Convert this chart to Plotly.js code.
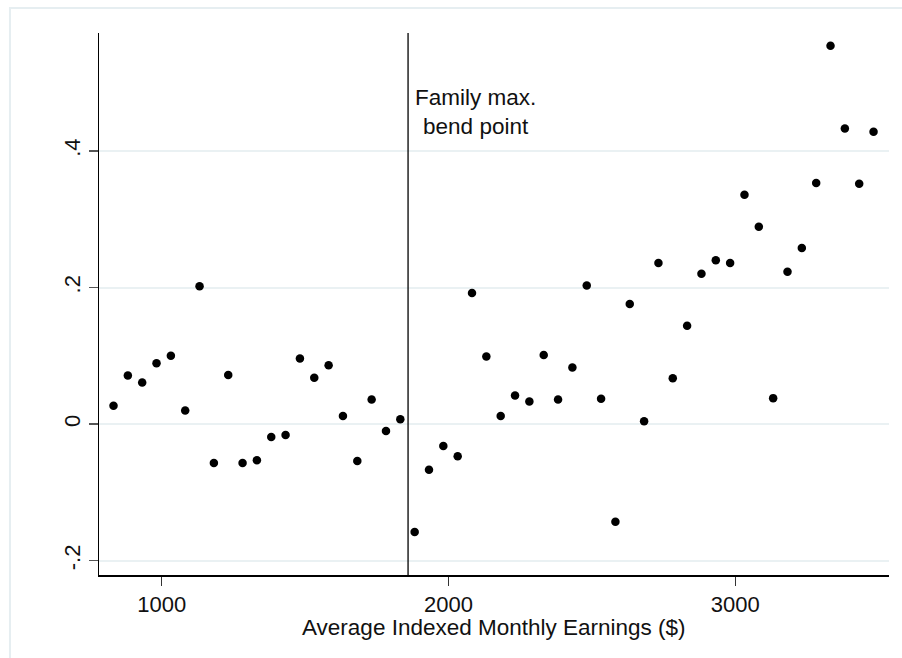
<!DOCTYPE html>
<html>
<head>
<meta charset="utf-8">
<script src="https://cdn.plot.ly/plotly-3.0.1.min.js"></script>
<style>html,body{margin:0;padding:0;background:#fff;}#chart{width:902px;height:658px;}</style>
</head>
<body>
<div id="chart"></div>
<script>
// Average Indexed Monthly Earnings bins ($)
const aime = [832, 882, 932, 982, 1032, 1082, 1132, 1182, 1232, 1282, 1332, 1382, 1432, 1482,
  1532, 1582, 1632, 1682, 1732, 1782, 1832, 1882, 1932, 1982, 2032, 2082, 2132, 2182,
  2232, 2282, 2332, 2382, 2432, 2482, 2532, 2582, 2632, 2682, 2732, 2782, 2832, 2882,
  2932, 2982, 3032, 3082, 3132, 3182, 3232, 3282, 3332, 3382, 3432, 3482];
const effect = [0.027, 0.071, 0.061, 0.089, 0.100, 0.020, 0.202, -0.057, 0.072, -0.057, -0.053, -0.019, -0.016, 0.096,
  0.068, 0.086, 0.012, -0.054, 0.036, -0.010, 0.007, -0.158, -0.067, -0.032, -0.047, 0.192, 0.099, 0.012,
  0.042, 0.033, 0.101, 0.036, 0.083, 0.203, 0.037, -0.143, 0.176, 0.004, 0.236, 0.067, 0.144, 0.220,
  0.240, 0.236, 0.336, 0.289, 0.038, 0.223, 0.258, 0.353, 0.554, 0.433, 0.352, 0.428];
const bendPoint = 1859;
const bendLabel = "Family max.<br>bend point";
const xTicks = [1000, 2000, 3000];
const xTickText = ["1000", "2000", "3000"];
const yTicks = [-0.2, 0, 0.2, 0.4];
const yTickText = ["-.2", "0", ".2", ".4"];
const xTitle = "Average Indexed Monthly Earnings ($)";

const font = "Liberation Sans, Arial, sans-serif";

const trace = {
  x: aime, y: effect, type: "scatter", mode: "markers",
  marker: {color: "#000", size: 8.5},
  hoverinfo: "skip", showlegend: false
};

const layout = {
  width: 902, height: 658,
  margin: {l: 99, r: 13, t: 33, b: 83},
  paper_bgcolor: "#fff", plot_bgcolor: "#fff",
  font: {family: font, size: 22, color: "#111"},
  xaxis: {
    range: [781.4, 3535.9],
    tickvals: xTicks, ticktext: xTickText,
    ticks: "outside", ticklen: 9, tickwidth: 1.2, tickcolor: "#333",
    showline: true, linecolor: "#000", linewidth: 1.5,
    showgrid: false, zeroline: false,
    tickfont: {size: 22, family: font, color: "#111"}
  },
  yaxis: {
    range: [-0.221, 0.5727],
    tickvals: yTicks, ticktext: yTickText,
    tickangle: -90,
    ticks: "outside", ticklen: 9, tickwidth: 1.2, tickcolor: "#555",
    showline: true, linecolor: "#000", linewidth: 1.5,
    showgrid: true, gridcolor: "#eaf1f3", gridwidth: 2,
    zeroline: false,
    tickfont: {size: 22, family: font, color: "#111"}
  },
  shapes: [
    {type: "rect", xref: "paper", yref: "paper",
     x0: -0.1127, x1: 1.08, y0: -0.2, y1: 1.0461,
     line: {color: "#e6eef1", width: 2}, fillcolor: "rgba(0,0,0,0)", layer: "below"},
    {type: "line", xref: "x", yref: "paper", x0: bendPoint, x1: bendPoint, y0: 0, y1: 1,
     line: {color: "#000", width: 1.3}}
  ],
  annotations: [
    {x: 2095, y: 0.457, xref: "x", yref: "y", text: bendLabel, showarrow: false,
     align: "center", xanchor: "center", yanchor: "middle",
     font: {size: 22.5, family: font, color: "#111"}},
    {x: 0.5, y: -0.096, xref: "paper", yref: "paper", text: xTitle, showarrow: false,
     xanchor: "center", yanchor: "middle", borderpad: 0,
     font: {size: 22.5, family: font, color: "#111"}}
  ]
};

Plotly.newPlot("chart", [trace], layout, {displayModeBar: false, staticPlot: true});
</script>
</body>
</html>
